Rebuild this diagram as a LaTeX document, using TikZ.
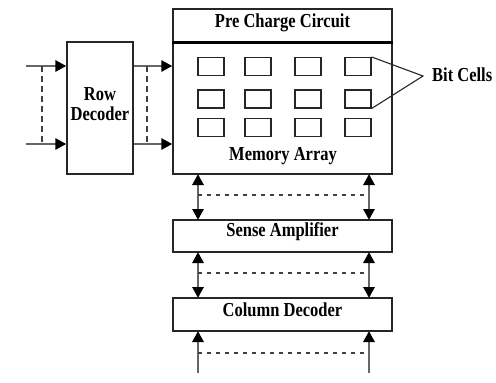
\documentclass[tikz,border=0pt]{standalone}
\usepackage{fontspec}
\usepackage{graphicx}
\setmainfont{Liberation Serif}
\usetikzlibrary{arrows.meta}
\newcommand{\tallbf}[1]{\scalebox{1}[1.2]{#1}}
\begin{document}
\begin{tikzpicture}[x=1pt,y=-1pt,
  blk/.style={draw=black!85,line width=1.3pt,fill=white},
  cell/.style={draw=black!85,line width=1.1pt,minimum width=26pt,minimum height=18pt,inner sep=0pt},
  lbl/.style={font=\bfseries\fontsize{16.5}{18}\selectfont,inner sep=0pt},
  sig/.style={draw=black!60,line width=2.8pt},
  tip/.style={-{Triangle[length=11pt,width=11pt,color=black]}},
  dtip/.style={{Triangle[length=11pt,width=11pt,color=black]}-{Triangle[length=11pt,width=11pt,color=black]}},
  dsh/.style={draw=black!75,line width=1.1pt,dash pattern=on 3.5pt off 5.5pt}]
\useasboundingbox (0,0) rectangle (496,383);
% blocks
\node[blk,minimum width=66pt,minimum height=132pt,inner sep=0pt] (rd) at (100,108) {};
\node[lbl] (rdt1) at (100,94) {\tallbf{Row}};
\node[lbl] (rdt2) at (100,114) {\tallbf{Decoder}};
\node[blk,minimum width=219pt,minimum height=34pt,inner sep=0pt] (pc) at (282.5,26) {};
\node[lbl] (pct) at (282.5,23) {\tallbf{Pre Charge Circuit}};
\node[blk,minimum width=219pt,minimum height=131pt,inner sep=0pt] (ma) at (282.5,108.5) {};
\draw[black,line width=2.6pt] (ma.north west) -- (ma.north east);
\node[lbl] (mat) at (283,156) {\tallbf{Memory Array}};
\node[blk,minimum width=219pt,minimum height=32pt,inner sep=0pt] (sa) at (282.5,236) {};
\node[lbl] (sat) at (282.5,232) {\tallbf{Sense Amplifier}};
\node[blk,minimum width=219pt,minimum height=33pt,inner sep=0pt] (cd) at (282.5,314.5) {};
\node[lbl] (cdt) at (282.5,310) {\tallbf{Column Decoder}};
% bit cells
\foreach \r/\y in {1/66.5,2/99,3/127.5}{
  \foreach \c/\x in {1/211,2/258,3/308,4/358}{
    \node[cell] (b\r\c) at (\x,\y) {};
  }
}
\node[lbl,anchor=west] (bc) at (432,75) {\tallbf{Bit Cells}};
\coordinate (bp) at (423,76);
\draw[black!85,line width=1.1pt] (b14.north east) -- (bp) -- (b24.south east);
% row decoder arrows
\coordinate (i1) at (26,66);
\coordinate (i2) at (26,144);
\draw[sig,tip] (i1) -- (i1 -| rd.west);
\draw[sig,tip] (i2) -- (i2 -| rd.west);
\coordinate (di1) at (42,66);
\coordinate (di2) at (42,144);
\draw[dsh,dash pattern=on 6pt off 4pt] (di1) -- (di2);
\coordinate (o1) at (rd.east |- i1);
\coordinate (o2) at (rd.east |- i2);
\draw[sig,tip] (o1) -- (o1 -| ma.west);
\draw[sig,tip] (o2) -- (o2 -| ma.west);
\coordinate (do1) at (147,66);
\coordinate (do2) at (147,144);
\draw[dsh,dash pattern=on 6pt off 4pt] (do1) -- (do2);
% vertical buses
\foreach \x/\n in {198/L,369/R}{
  \coordinate (m\n) at (\x,174);
  \coordinate (s\n) at (\x,220);
  \coordinate (t\n) at (\x,252);
  \coordinate (c\n) at (\x,298);
  \coordinate (e\n) at (\x,331);
  \coordinate (f\n) at (\x,373);
  \draw[sig,dtip] (m\n) -- (s\n);
  \draw[sig,dtip] (t\n) -- (c\n);
  \draw[sig,tip] (f\n) -- (e\n);
}
\coordinate (h1L) at (198,195); \coordinate (h1R) at (369,195);
\coordinate (h2L) at (198,273); \coordinate (h2R) at (369,273);
\coordinate (h3L) at (198,353); \coordinate (h3R) at (369,353);
\draw[dsh] (h1L) -- (h1R);
\draw[dsh] (h2L) -- (h2R);
\draw[dsh] (h3L) -- (h3R);
\end{tikzpicture}
\end{document}
